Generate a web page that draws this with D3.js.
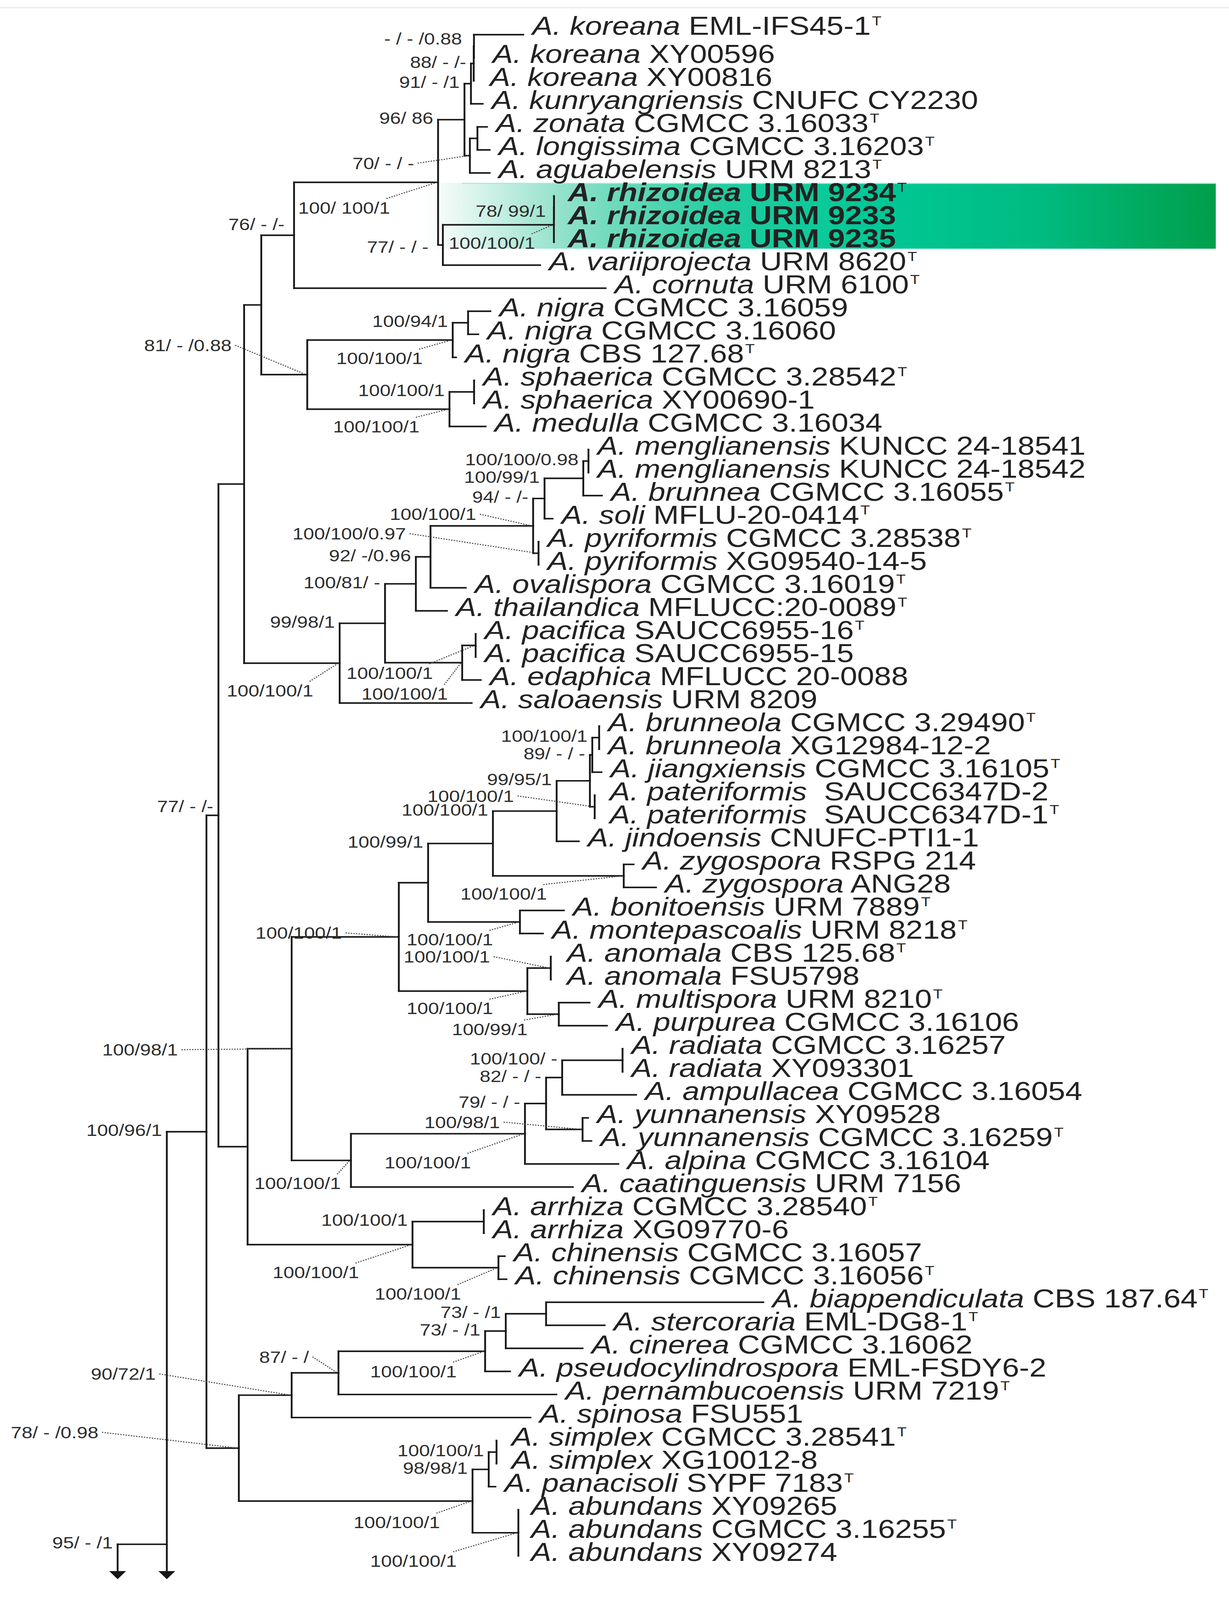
<!DOCTYPE html>
<html>
<head>
<meta charset="utf-8">
<script src="https://cdn.jsdelivr.net/npm/d3@7"></script>
<style>
html, body { margin: 0; padding: 0; background: #fff; overflow: hidden; }
svg { display: block; width: 100vw; height: 100vh; }
</style>
</head>
<body>
<script>
// leaves, top to bottom
var species = ["koreana","koreana","koreana","kunryangriensis","zonata","longissima","aguabelensis",
  "rhizoidea","rhizoidea","rhizoidea","variiprojecta","cornuta","nigra","nigra","nigra","sphaerica",
  "sphaerica","medulla","menglianensis","menglianensis","brunnea","soli","pyriformis","pyriformis",
  "ovalispora","thailandica","pacifica","pacifica","edaphica","saloaensis","brunneola","brunneola",
  "jiangxiensis","pateriformis","pateriformis","jindoensis","zygospora","zygospora","bonitoensis",
  "montepascoalis","anomala","anomala","multispora","purpurea","radiata","radiata","ampullacea",
  "yunnanensis","yunnanensis","alpina","caatinguensis","arrhiza","arrhiza","chinensis","chinensis",
  "biappendiculata","stercoraria","cinerea","pseudocylindrospora","pernambucoensis","spinosa",
  "simplex","simplex","panacisoli","abundans","abundans","abundans"];
var strains = ["EML-IFS45-1","XY00596","XY00816","CNUFC CY2230","CGMCC 3.16033","CGMCC 3.16203",
  "URM 8213","URM 9234","URM 9233","URM 9235","URM 8620","URM 6100","CGMCC 3.16059","CGMCC 3.16060",
  "CBS 127.68","CGMCC 3.28542","XY00690-1","CGMCC 3.16034","KUNCC 24-18541","KUNCC 24-18542",
  "CGMCC 3.16055","MFLU-20-0414","CGMCC 3.28538","XG09540-14-5","CGMCC 3.16019","MFLUCC:20-0089",
  "SAUCC6955-16","SAUCC6955-15","MFLUCC 20-0088","URM 8209","CGMCC 3.29490","XG12984-12-2",
  "CGMCC 3.16105","\u00a0SAUCC6347D-2","\u00a0SAUCC6347D-1","CNUFC-PTI1-1","RSPG 214","ANG28",
  "URM 7889","URM 8218","CBS 125.68","FSU5798","URM 8210","CGMCC 3.16106","CGMCC 3.16257",
  "XY093301","CGMCC 3.16054","XY09528","CGMCC 3.16259","CGMCC 3.16104","URM 7156","CGMCC 3.28540",
  "XG09770-6","CGMCC 3.16057","CGMCC 3.16056","CBS 187.64","EML-DG8-1","CGMCC 3.16062",
  "EML-FSDY6-2","URM 7219","FSU551","CGMCC 3.28541","XG10012-8","SYPF 7183","XY09265",
  "CGMCC 3.16255","XY09274"];
// ex-type strains (superscript T)
var typeStrains = [0,4,5,6,7,10,11,14,15,20,21,22,24,25,26,30,32,34,38,39,40,42,48,51,54,55,56,59,61,63,65];
// new species, highlighted
var newSpecies = [7,8,9];

// leaf -> parent node, distance from root
var leafParent = ["N088","N088","N88","N91","Nzl","Nzl","N70","Nrz2","Nrz2","Nrz","N77","N76",
  "Nnp","Nnp","Nnig","Nsp","Nsp","Nsm","Nmg","Nmg","N10099","N94","Npy","Npy","N92","N10081",
  "Npc","Npc","Npe","C","Nbrn","Nbrn","N89","Npat","Npat","N1208","Nzy","Nzy","Nbm","Nbm",
  "Nanp","Nanp","Nmp","Nmp","Nrad","Nrad","N82","Nyun","Nyun","Nalp","H","Narr","Narr","Nchi",
  "Nchi","N73b","N73b","N73a","Npc2","N87","N90","Nsim","Nsim","N98","Nab","Nab","Nab"];
var leafDist = [338,296.9,296.7,304.2,307.8,310,310,363.6,363.6,363.5,352,406.6,
  310.6,300.5,282,297,297,306.6,392.3,392.3,403.5,362.4,350.7,350.7,290.1,274.4,
  298.3,298.3,302.6,295,401.2,401.2,403.2,397.5,397.5,384.3,429.9,448.6,371.8,354.4,
  360.9,360.9,393.2,407.7,420.7,420.7,432,392,394.7,417.2,379.3,305.1,305.1,322.6,
  324,538,405.8,387.4,327,365.6,344,315.7,315.7,314.8,333.9,333.9,333.9];

// internal nodes: id, parent, distance from root, support (ML/MP/BI)
var nodeIds = ["K","J","I","D","B","A","N76","N100","N96","N91","N88","N088","N70","Nzl","N77",
  "Nrz","Nrz2","NS","Nnig","Nnp","Nsm","Nsp","C","N99","N10081","N92","Nmf","N94","N10099","Nmg",
  "Npy","Npe","Npc","E","F","G","Ng1","N995","N1208","N9995","N89","Nbrn","Npat","Nzy","Nbm",
  "Nan","Nanp","Nmp","H","Nalp","N79","N82","Nrad","Nyun","Nac","Narr","Nchi","N78","N90","N87",
  "Npc2","N73a","N73b","Nsa","N98","Nsim","Nab"];
var nodeParent = [null,"K","J","I","D","B","A","N76","N100","N96","N91","N88","N96","N70","N100",
  "N77","Nrz","A","NS","Nnig","NS","Nsm","B","C","N99","N10081","N92","Nmf","N94","N10099",
  "Nmf","N99","Npe","D","E","F","G","Ng1","N995","N1208","N9995","N89","N9995","N995","Ng1",
  "G","Nan","Nan","F","H","Nalp","N79","N82","N79","E","Nac","Nac","I","N78","N90",
  "N87","Npc2","N73a","N78","Nsa","N98","Nsa"];
var nodeDist = [0,41,74,84,105.4,119.7,147,267,289,294.4,296.7,296.9,293.5,299.8,271,
  363.5,363.6,158,279.2,292,276.5,297,185,222.8,248.5,260.7,346.2,355.7,388,392.3,
  350.7,287.1,298.3,108.3,145,234.3,258.7,312.7,365.8,393.5,395.5,401.2,397.5,421.7,335.2,
  341.4,360.9,367.6,194.4,339.4,357,370.4,420.7,387.4,245.7,305.1,317.3,101,145,184,
  306.2,323.4,357,295.7,309.2,315.7,333.9];
var nodeSupport = ["","95/ - /1","100/96/1","77/ - /-","","","76/ - /-","100/ 100/1","96/ 86",
  "91/ - /1","88/ - /-","- / - /0.88","70/ - / -","","77/ - / -","100/100/1","78/ 99/1",
  "81/ - /0.88","100/100/1","100/94/1","100/100/1","100/100/1","100/100/1","99/98/1","100/81/ -",
  "92/ -/0.96","100/100/1","94/ - /-","100/99/1","100/100/0.98","100/100/0.97","100/100/1",
  "100/100/1","","100/98/1","100/100/1","","100/99/1","100/100/1","99/95/1","89/ - / -",
  "100/100/1","100/100/1","100/100/1","100/100/1","100/100/1","100/100/1","100/99/1","100/100/1",
  "100/100/1","79/ - / -","82/ - / -","100/100/ -","100/98/1","100/100/1","100/100/1","100/100/1",
  "78/ - /0.98","90/72/1","87/ - /","100/100/1","73/ - /1","73/ - /1","100/100/1","98/98/1",
  "100/100/1","100/100/1"];

// tree continues below the figure (collapsed part): parent, leaf row
var hiddenParent = ["J","K"];
var hiddenRow = [83.4, 100];

// ---- layout (not data) ----
// hand placed support labels: right edge / centre relative to the node, lead = dotted leader
var labelPlace = {
  N76:{dx:-8,dy:-11}, D:{dx:-4.3,dy:-9}, N088:{dx:-10,dy:-7.5}, N77:{dx:-12,dy:2},
  Nrz2:{dx:-6.8,dy:3.3},
  N100:{dx:-40,dy:25,lead:1}, N70:{dx:-46.5,dy:7.4,lead:1}, Nrz:{dx:-15.6,dy:18,lead:1},
  NS:{dx:-63,dy:-29,lead:1}, Nnig:{dx:-25,dy:18,lead:1}, Nsm:{dx:-25,dy:17,lead:1},
  C:{dx:-22,dy:27,lead:1}, Nmf:{dx:-47.4,dy:-11.5,lead:1}, Npy:{dx:-110.4,dy:-19.3,lead:1},
  Npe:{dx:-11.9,dy:30.7,lead:1}, Npc:{dx:-35.6,dy:27.2,lead:1}, F:{dx:-94.8,dy:1,lead:1},
  G:{dx:-47.4,dy:-4,lead:1}, Npat:{dx:-67.3,dy:-10.7,lead:1}, Nzy:{dx:-64,dy:17.5,lead:1},
  Nbm:{dx:-22.4,dy:17.3,lead:1}, Nan:{dx:-28.6,dy:17,lead:1}, Nanp:{dx:-50.6,dy:-11.3,lead:1},
  Nmp:{dx:-26,dy:14.8,lead:1}, H:{dx:-8.4,dy:22.6,lead:1}, Nalp:{dx:-45,dy:28.4,lead:1},
  Nyun:{dx:-68.8,dy:-7.2,lead:1}, Nac:{dx:-44.5,dy:27.2,lead:1}, Nchi:{dx:-31.1,dy:25.75,lead:1},
  N78:{dx:-117,dy:-15.6,lead:1}, N90:{dx:-113.3,dy:-21,lead:1}, N87:{dx:-24.6,dy:-15.8,lead:1},
  Npc2:{dx:-23.7,dy:19.8,lead:1}, Nsa:{dx:-27.1,dy:21,lead:1}, Nab:{dx:-51.4,dy:27.8,lead:1}
};
var leafGap = {1:8, 2:6, 7:4, 8:4, 9:4, 33:5, 34:5, 40:6, 41:6, 61:5, 62:5, 64:3, 65:3, 66:3};
var leafShiftY = {0:-5};

var W = 1024, H = 1578;
var svg = d3.select("body").append("svg")
    .attr("viewBox", "0 0 " + W + " " + H)
    .attr("preserveAspectRatio", "none");

var x = d3.scaleLinear().domain([0, 1000]).range([98, 1098]);
var y = d3.scaleLinear().domain([0, species.length - 1]).range([34.2, 1534.4]);
var arrowTip = 1557.5, arrowBase = 1549.5;

// table for stratify
var rows = [];
nodeIds.forEach(function(id, i){
  rows.push({id:id, parent:nodeParent[i], dist:nodeDist[i], support:nodeSupport[i], kind:"node"});
});
species.forEach(function(s, i){
  rows.push({id:"L"+i, parent:leafParent[i], dist:leafDist[i], row:i, kind:"leaf"});
});
hiddenParent.forEach(function(p, i){
  rows.push({id:"hidden"+i, parent:p, dist:nodeDist[nodeIds.indexOf(p)], row:hiddenRow[i], kind:"hidden"});
});

var root = d3.stratify().id(function(d){ return d.id; }).parentId(function(d){ return d.parent; })(rows);
root.eachAfter(function(n){
  n.px = x(n.data.dist);
  if (n.children) {
    var ys = n.children.map(function(c){ return c.py; });
    n.py = (d3.min(ys) + d3.max(ys)) / 2;
  } else {
    n.py = y(n.data.row);
  }
});

svg.append("rect").attr("width", W).attr("height", H).attr("fill", "#fff");
svg.append("line").attr("x1", 0).attr("x2", W).attr("y1", 7.5).attr("y2", 7.5)
  .attr("stroke", "#eeeeee").attr("stroke-width", 1.5);

// highlight band behind the new species
var grad = svg.append("defs").append("linearGradient").attr("id", "hl")
  .attr("x1", "0%").attr("x2", "100%").attr("y1", "0%").attr("y2", "0%");
[[0,"#ffffff",0],[0.04,"#f0faf7",1],[0.19,"#8fe0c8",1],[0.39,"#1fcc9f",1],[0.58,"#00c896",1],
 [0.78,"#00bb80",1],[1,"#009f4a",1]].forEach(function(s){
  grad.append("stop").attr("offset", s[0]).attr("stop-color", s[1]).attr("stop-opacity", s[2]);
});
var hlNodes = root.leaves().filter(function(n){ return n.data.kind === "leaf" && newSpecies.indexOf(n.data.row) >= 0; });
var hlTop = d3.min(hlNodes, function(n){ return n.py; }) - 13;
var hlBot = d3.max(hlNodes, function(n){ return n.py; }) + 6.5;
var hlLeft = x(247), hlRight = 1013;
svg.append("rect").attr("x", hlLeft).attr("y", hlTop)
  .attr("width", hlRight - hlLeft).attr("height", hlBot - hlTop)
  .attr("fill", "url(#hl)");
svg.append("line").attr("x1", hlLeft + 40).attr("x2", hlRight).attr("y1", hlTop + 0.5).attr("y2", hlTop + 0.5)
  .attr("stroke", "#9ff0d8").attr("stroke-width", 1);

var tree = svg.append("g").attr("fill", "none").attr("stroke", "#161616")
  .attr("stroke-width", 1.5).attr("stroke-linecap", "square");

// horizontal branches
tree.selectAll("path.h")
  .data(root.descendants().filter(function(n){ return n.parent && n.data.kind !== "hidden"; }))
  .enter().append("path").attr("class", "h")
  .attr("d", function(n){ return "M" + n.parent.px + "," + n.py + "H" + n.px; });

// vertical connectors
tree.selectAll("path.v")
  .data(root.descendants().filter(function(n){ return n.children; }))
  .enter().append("path").attr("class", "v")
  .attr("d", function(n){
    var ys = n.children.map(function(c){ return c.py; });
    return "M" + n.px + "," + d3.min(ys) + "V" + Math.min(d3.max(ys), arrowBase);
  });

// arrows where the tree continues
svg.selectAll("path.arrow")
  .data(root.descendants().filter(function(n){
    return n.children && n.children.some(function(c){ return c.data.kind === "hidden"; });
  }))
  .enter().append("path").attr("class", "arrow").attr("fill", "#161616")
  .attr("d", function(n){
    return "M" + (n.px - 7) + "," + arrowBase + "L" + (n.px + 7) + "," + arrowBase + "L" + n.px + "," + arrowTip + "Z";
  });

// leaf labels
var leafFont = "'Liberation Sans', Arial, Helvetica, sans-serif";
var leafG = svg.append("g").attr("font-family", leafFont).attr("font-size", 25.5).attr("fill", "#222");
root.leaves().filter(function(n){ return n.data.kind === "leaf"; }).forEach(function(n){
  var i = n.data.row;
  var bold = newSpecies.indexOf(i) >= 0;
  var t = leafG.append("text")
    .attr("x", n.px + 7.5 + (leafGap[i] || 0))
    .attr("y", n.py + 5 + (leafShiftY[i] || 0))
    .attr("font-weight", bold ? "bold" : null);
  t.append("tspan").attr("font-style", "italic").text("A. " + species[i]);
  t.append("tspan").text(" " + strains[i]);
  if (typeStrains.indexOf(i) >= 0) {
    t.append("tspan").attr("font-size", 13).attr("font-weight", "normal")
      .attr("dx", 1).attr("dy", -9).text("T");
  }
});

// support values
var supG = svg.append("g").attr("font-family", leafFont).attr("font-size", 16.2)
  .attr("fill", "#2e2e2e").attr("text-anchor", "end");
var leadG = svg.append("g").attr("stroke", "#444").attr("stroke-width", 1)
  .attr("stroke-dasharray", "1.1,1.1").attr("fill", "none");
root.descendants().filter(function(n){ return n.data.kind === "node" && n.data.support; }).forEach(function(n){
  var p = labelPlace[n.id];
  var rx, cy;
  if (p) { rx = n.px + p.dx; cy = n.py + p.dy; }
  else { rx = n.parent.px - 4; cy = n.py - 1.5; }
  supG.append("text").attr("x", rx).attr("y", cy + 5.8).text(n.data.support);
  if (p && p.lead) {
    var sx = p.dy > 12 ? rx - 3 : rx + 3;
    var sy = p.dy > 12 ? cy - 9 : cy;
    leadG.append("path").attr("d", "M" + sx + "," + sy + "L" + (n.px - 1) + "," + n.py);
  }
});
</script>
</body>
</html>
